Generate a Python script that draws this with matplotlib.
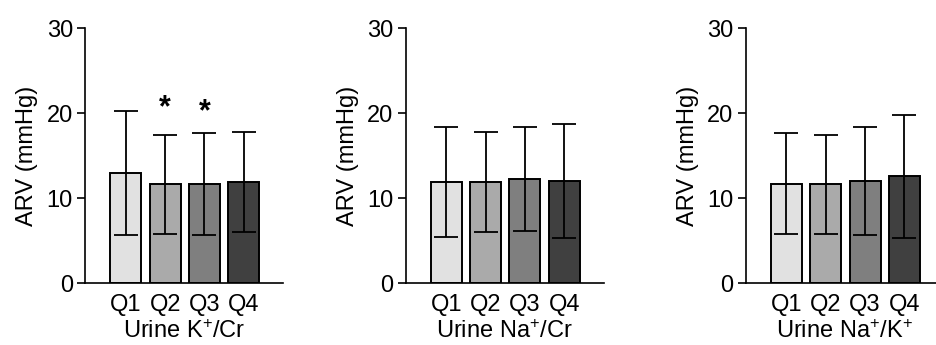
import numpy as np
import matplotlib.pyplot as plt

plt.rcParams["font.family"] = ["Liberation Sans", "DejaVu Sans"]
plt.rcParams["mathtext.fontset"] = "custom"
plt.rcParams["mathtext.rm"] = "Liberation Sans"
plt.rcParams["mathtext.default"] = "regular"

# -------------------- data --------------------
quartiles = ["Q1", "Q2", "Q3", "Q4"]
panel_labels = ["Urine K$^{+}$/Cr", "Urine Na$^{+}$/Cr", "Urine Na$^{+}$/K$^{+}$"]

arv_mean = [
    [12.9, 11.6, 11.6, 11.9],
    [11.9, 11.9, 12.2, 12.0],
    [11.7, 11.6, 12.0, 12.55],
]
arv_sd = [
    [7.3, 5.85, 6.0, 5.9],
    [6.5, 5.85, 6.1, 6.7],
    [5.95, 5.8, 6.4, 7.2],
]
# significance stars: (panel, bar index, y)
stars = [(0, 1, 20.6), (0, 2, 20.1)]

bar_colors = ["#e1e1e1", "#aaaaaa", "#7f7f7f", "#404040"]

FS = 17

# -------------------- plot --------------------
fig = plt.figure(figsize=(9.37, 3.45), dpi=100)
lefts = [0.0912, 0.4333, 0.7962]

for p in range(3):
    ax = fig.add_axes([lefts[p], 0.1797, 0.2108, 0.739])
    x = np.arange(len(quartiles))
    ax.bar(x, arv_mean[p], width=0.79, color=bar_colors,
           edgecolor="black", linewidth=1.4, zorder=2)
    ax.errorbar(x, arv_mean[p], yerr=arv_sd[p], fmt="none", ecolor="black",
                elinewidth=1.3, capsize=8.5, capthick=1.3, zorder=3)

    ax.set_xlim(-1.03, 4.0)
    ax.set_ylim(0, 30)
    ax.set_yticks([0, 10, 20, 30])
    ax.set_xticks(x)
    ax.set_xticklabels(quartiles)
    ax.tick_params(axis="x", length=0, pad=8, labelsize=FS)
    ax.tick_params(axis="y", length=6, width=1.2, pad=3, labelsize=FS)
    for s in ["top", "right"]:
        ax.spines[s].set_visible(False)
    for s in ["left", "bottom"]:
        ax.spines[s].set_linewidth(1.2)
    ax.set_ylabel("ARV (mmHg)", fontsize=FS, labelpad=6)
    ax.set_xlabel(panel_labels[p], fontsize=FS, labelpad=3)

    for sp, bi, yv in stars:
        if sp == p:
            ax.text(bi, yv, "*", ha="center", va="center",
                    fontsize=22, fontweight="bold")

fig.savefig("out.png", dpi=100)
